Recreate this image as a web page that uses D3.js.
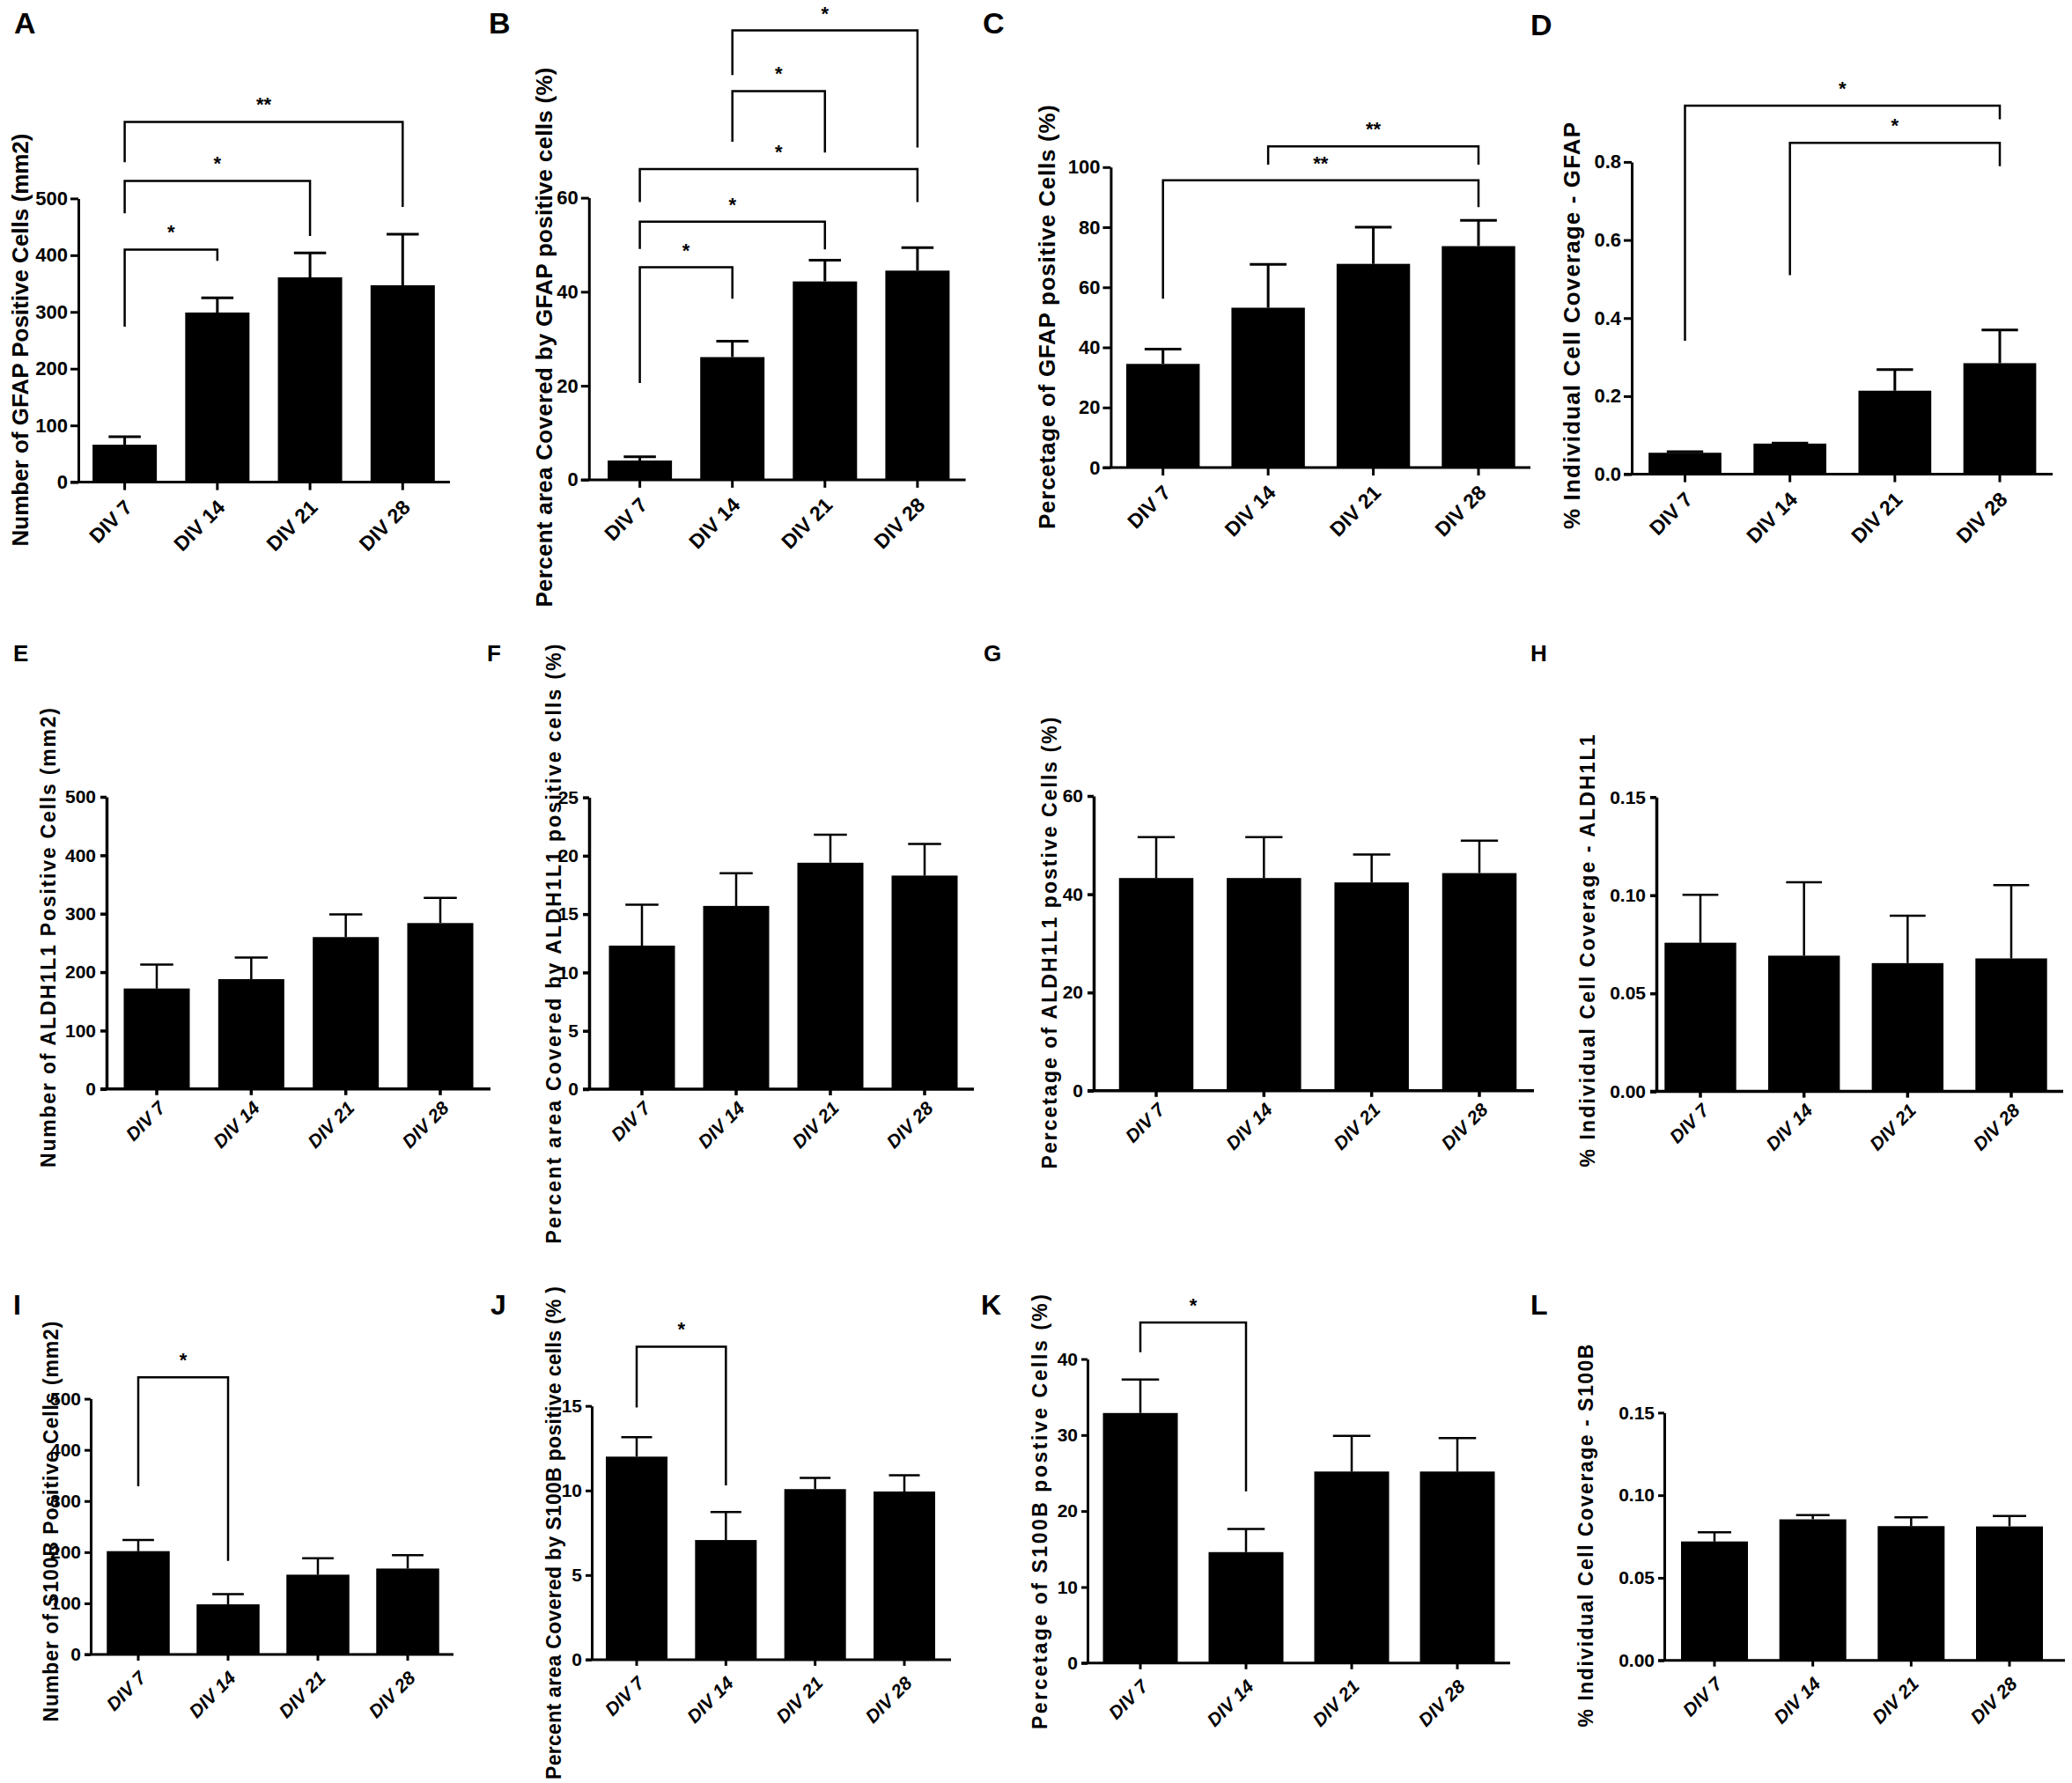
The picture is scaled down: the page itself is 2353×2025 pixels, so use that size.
<!DOCTYPE html>
<html>
<head>
<meta charset="utf-8">
<script src="https://cdn.jsdelivr.net/npm/d3@7"></script>
<style>
body { margin: 0; background: #fff; }
</style>
</head>
<body>
<script>
const categories = ["DIV 7", "DIV 14", "DIV 21", "DIV 28"];

// GFAP row (A-D): means and upper SEM
const gfapCount = [66, 299, 361, 347];
const gfapCountErr = [14, 26, 43, 90];
const gfapArea = [4.1, 26.1, 42.2, 44.5];
const gfapAreaErr = [0.8, 3.4, 4.5, 4.9];
const gfapPercent = [34.5, 53.2, 67.8, 73.7];
const gfapPercentErr = [4.9, 14.4, 12.2, 8.6];
const gfapCoverage = [0.055, 0.0785, 0.214, 0.2845];
const gfapCoverageErr = [0.003, 0.0015, 0.054, 0.085];

// ALDH1L1 row (E-H)
const aldhCount = [172, 188, 260, 284];
const aldhCountErr = [41, 37, 39, 43];
const aldhArea = [12.3, 15.7, 19.4, 18.3];
const aldhAreaErr = [3.5, 2.8, 2.4, 2.7];
const aldhPercent = [43.3, 43.3, 42.4, 44.3];
const aldhPercentErr = [8.3, 8.3, 5.7, 6.6];
const aldhCoverage = [0.0758, 0.0692, 0.0654, 0.0678];
const aldhCoverageErr = [0.0244, 0.0374, 0.0242, 0.0373];

// S100B row (I-L)
const s100bCount = [202, 98, 156, 168];
const s100bCountErr = [22, 20, 32, 26];
const s100bArea = [12.0, 7.07, 10.08, 9.94];
const s100bAreaErr = [1.15, 1.66, 0.66, 0.96];
const s100bPercent = [32.9, 14.6, 25.2, 25.2];
const s100bPercentErr = [4.4, 3.05, 4.7, 4.4];
const s100bCoverage = [0.072, 0.0854, 0.0813, 0.0811];
const s100bCoverageErr = [0.0056, 0.0025, 0.0053, 0.0063];

// significance brackets: [from, to, bracket level, left leg end, right leg end, label]
const gfapCountSig = [[0, 1, 410, 274, 390, "*"], [0, 2, 531, 474, 434, "*"], [0, 3, 635, 564, 485, "**"]];
const gfapAreaSig = [[0, 1, 45.2, 20.6, 38.5, "*"], [0, 2, 54.9, 49.1, 49.0, "*"], [0, 3, 66.1, 59.1, 59.1, "*"],
                     [1, 2, 82.7, 71.9, 69.6, "*"], [1, 3, 95.6, 86.1, 70.7, "*"]];
const gfapPercentSig = [[0, 3, 95.6, 56.2, 86.7, "**"], [1, 3, 106.9, 100.8, 100.8, "**"]];
const gfapCoverageSig = [[0, 3, 0.944, 0.342, 0.909, "*"], [1, 3, 0.849, 0.510, 0.789, "*"]];
const s100bCountSig = [[0, 1, 542, 329, 183, "*"]];
const s100bAreaSig = [[0, 1, 18.5, 14.9, 10.3, "*"]];
const s100bPercentSig = [[0, 1, 44.8, 40.9, 22.6, "*"]];

// tick values
const ticks500 = [0, 100, 200, 300, 400, 500];
const ticks60 = [0, 20, 40, 60];
const ticks100 = [0, 20, 40, 60, 80, 100];
const ticks08 = [0, 0.2, 0.4, 0.6, 0.8];
const ticks25 = [0, 5, 10, 15, 20, 25];
const ticks015 = [0, 0.05, 0.10, 0.15];
const ticks15 = [0, 5, 10, 15];
const ticks40 = [0, 10, 20, 30, 40];

const width = 2353;
const height = 2025;

const arial = "'Liberation Sans', Arial, Helvetica, sans-serif";

const rowStyle = {
    1: {tickSize: 22, divSize: 23, divStyle: "normal", axisW: 3, tickLen: 9, tickPad: 3,
        divDx: 10, divDy: 30, labelSize: 26, letterSize: 34, starSize: 22, lineW: 2.5, errW: 3},
    2: {tickSize: 21, divSize: 21, divStyle: "italic", axisW: 3.5, tickLen: 7, tickPad: 5,
        divDx: 11, divDy: 23, labelSize: 23, letterSize: 26, starSize: 22, lineW: 2.5, errW: 2.5},
    3: {tickSize: 21, divSize: 21, divStyle: "italic", axisW: 3, tickLen: 7, tickPad: 4,
        divDx: 10, divDy: 28, labelSize: 23, letterSize: 32, starSize: 22, lineW: 2.5, errW: 2.5}
};

const panels = [
    {letter: "A", lx: 16, ly: 38, row: 1, values: gfapCount, errors: gfapCountErr, sig: gfapCountSig, ticks: ticks500, fmt: "d",
     ylabel: "Number of GFAP Positive Cells (mm2)", x0: 89, x1: 511, c0: 141.6, c3: 457.3, barW: 73, yTop: 225.4, y0: 547.6,
     labelX: 32, labelY: 386, labelLen: 469},
    {letter: "B", lx: 555, ly: 38, row: 1, values: gfapArea, errors: gfapAreaErr, sig: gfapAreaSig, ticks: ticks60, fmt: "d",
     ylabel: "Percent area Covered by GFAP positive cells (%)", x0: 668.8, x1: 1096.6, c0: 726.6, c3: 1041.9, barW: 73, yTop: 224.6, y0: 544.9,
     labelX: 627, labelY: 383, labelLen: 613},
    {letter: "C", lx: 1116, ly: 38, row: 1, values: gfapPercent, errors: gfapPercentErr, sig: gfapPercentSig, ticks: ticks100, fmt: "d",
     ylabel: "Percetage of GFAP positive Cells (%)", x0: 1261.4, x1: 1738, c0: 1320.7, c3: 1679, barW: 83.4, yTop: 189.8, y0: 531,
     labelX: 1198, labelY: 360, labelLen: 482},
    {letter: "D", lx: 1738, ly: 40, row: 1, values: gfapCoverage, errors: gfapCoverageErr, sig: gfapCoverageSig, ticks: ticks08, fmt: ".1f",
     ylabel: "% Individual Cell Coverage - GFAP", x0: 1853, x1: 2331, c0: 1913.5, c3: 2271, barW: 82.7, yTop: 183.9, y0: 538.6,
     labelX: 1794, labelY: 370, labelLen: 462},

    {letter: "E", lx: 15, ly: 751, row: 2, values: aldhCount, errors: aldhCountErr, sig: [], ticks: ticks500, fmt: "d",
     ylabel: "Number of ALDH1L1 Positive Cells (mm2)", x0: 121, x1: 557, c0: 178, c3: 500, barW: 75, yTop: 905, y0: 1236.8,
     labelX: 63, labelY: 1065, labelLen: 522},
    {letter: "F", lx: 553, ly: 751, row: 2, values: aldhArea, errors: aldhAreaErr, sig: [], ticks: ticks25, fmt: "d",
     ylabel: "Percent area Covered by ALDH1L1 positive cells (%)", x0: 669, x1: 1106, c0: 729, c3: 1050, barW: 75, yTop: 905.6, y0: 1237,
     labelX: 637, labelY: 1072, labelLen: 681},
    {letter: "G", lx: 1117, ly: 751, row: 2, values: aldhPercent, errors: aldhPercentErr, sig: [], ticks: ticks60, fmt: "d",
     ylabel: "Percetage of ALDH1L1 postive Cells (%)", x0: 1242, x1: 1742, c0: 1313, c3: 1680, barW: 84.5, yTop: 904, y0: 1238.8,
     labelX: 1200, labelY: 1071, labelLen: 513},
    {letter: "H", lx: 1738, ly: 751, row: 2, values: aldhCoverage, errors: aldhCoverageErr, sig: [], ticks: ticks015, fmt: ".2f",
     ylabel: "% Individual Cell Coverage - ALDH1L1", x0: 1881, x1: 2343, c0: 1931, c3: 2284, barW: 81.4, yTop: 905.3, y0: 1239.6,
     labelX: 1811, labelY: 1080, labelLen: 491},

    {letter: "I", lx: 15, ly: 1493, row: 3, values: s100bCount, errors: s100bCountErr, sig: s100bCountSig, ticks: ticks500, fmt: "d",
     ylabel: "Number of S100B Positive Cells (mm2)", x0: 103, x1: 515, c0: 157, c3: 463, barW: 71.5, yTop: 1588.6, y0: 1879,
     labelX: 66, labelY: 1728, labelLen: 455},
    {letter: "J", lx: 557, ly: 1493, row: 3, values: s100bArea, errors: s100bAreaErr, sig: s100bAreaSig, ticks: ticks15, fmt: "d",
     ylabel: "Percent area Covered by S100B positive cells (% )", x0: 672, x1: 1080, c0: 723, c3: 1027, barW: 70, yTop: 1596.7, y0: 1884.9,
     labelX: 637, labelY: 1741, labelLen: 560},
    {letter: "K", lx: 1114, ly: 1493, row: 3, values: s100bPercent, errors: s100bPercentErr, sig: s100bPercentSig, ticks: ticks40, fmt: "d",
     ylabel: "Percetage of S100B postive Cells (%)", x0: 1235, x1: 1715, c0: 1295, c3: 1655, barW: 85, yTop: 1543.5, y0: 1888.8,
     labelX: 1189, labelY: 1717, labelLen: 494},
    {letter: "L", lx: 1738, ly: 1493, row: 3, values: s100bCoverage, errors: s100bCoverageErr, sig: [], ticks: ticks015, fmt: ".2f",
     ylabel: "% Individual Cell Coverage - S100B", x0: 1890, x1: 2345, c0: 1947, c3: 2282, barW: 76, yTop: 1604.4, y0: 1885.7,
     labelX: 1809, labelY: 1744, labelLen: 435}
];

const svg = d3.select("body").append("svg")
    .attr("width", width)
    .attr("height", height)
    .style("display", "block");

svg.append("rect").attr("width", width).attr("height", height).attr("fill", "#fff");

function drawPanel(p) {
    const st = rowStyle[p.row];
    const step = (p.c3 - p.c0) / 3;
    const pad = 1 - p.barW / step;

    // band centers sit on the tick positions
    const x = d3.scaleBand()
        .domain(categories)
        .range([p.c0 - step / 2, p.c3 + step / 2])
        .paddingInner(pad)
        .paddingOuter(pad / 2);
    const y = d3.scaleLinear()
        .domain([0, d3.max(p.ticks)])
        .range([p.y0, p.yTop]);
    const cx = i => x(categories[i]) + x.bandwidth() / 2;

    const g = svg.append("g").attr("class", "panel-" + p.letter);

    // bars
    g.selectAll("rect.bar")
        .data(p.values)
        .join("rect")
        .attr("class", "bar")
        .attr("x", (d, i) => x(categories[i]))
        .attr("y", d => y(d))
        .attr("width", x.bandwidth())
        .attr("height", d => y(0) - y(d))
        .attr("fill", "#000");

    // upper error bars only
    const capW = x.bandwidth() * 0.5;
    g.selectAll("path.err")
        .data(p.values)
        .join("path")
        .attr("class", "err")
        .attr("d", (d, i) => {
            const top = y(d + p.errors[i]);
            return `M${cx(i)},${y(d)}V${top}M${cx(i) - capW / 2},${top}H${cx(i) + capW / 2}`;
        })
        .attr("fill", "none")
        .attr("stroke", "#000")
        .attr("stroke-width", st.errW);

    // y axis
    const yAxis = g.append("g")
        .attr("transform", `translate(${p.x0},0)`)
        .call(d3.axisLeft(y).tickValues(p.ticks).tickFormat(d3.format(p.fmt))
            .tickSize(st.tickLen).tickSizeOuter(0).tickPadding(st.tickPad));
    yAxis.selectAll("path, line").attr("stroke", "#000").attr("stroke-width", st.axisW);
    yAxis.selectAll("text")
        .attr("font-family", arial)
        .attr("font-size", st.tickSize)
        .attr("font-weight", "bold")
        .attr("fill", "#000");

    // x axis
    const xAxis = g.append("g")
        .attr("transform", `translate(0,${p.y0})`)
        .call(d3.axisBottom(x).tickSize(st.tickLen).tickSizeOuter(0).tickFormat(""));
    xAxis.select(".domain").attr("d", `M${p.x0 - st.tickLen},0H${p.x1}`);
    xAxis.selectAll("path, line").attr("stroke", "#000").attr("stroke-width", st.axisW);

    // rotated category labels
    g.selectAll("text.cat")
        .data(categories)
        .join("text")
        .attr("class", "cat")
        .attr("transform", (d, i) => `translate(${cx(i) + st.divDx},${p.y0 + st.divDy}) rotate(-45)`)
        .attr("text-anchor", "end")
        .attr("font-family", arial)
        .attr("font-size", st.divSize)
        .attr("font-weight", "bold")
        .attr("font-style", st.divStyle)
        .text(d => d);

    // y label
    g.append("text")
        .attr("transform", `translate(${p.labelX},${p.labelY}) rotate(-90)`)
        .attr("text-anchor", "middle")
        .attr("font-family", arial)
        .attr("font-size", st.labelSize)
        .attr("font-weight", "bold")
        .attr("textLength", p.labelLen)
        .attr("lengthAdjust", "spacing")
        .text(p.ylabel);

    // significance brackets
    p.sig.forEach(s => {
        const [a, b, level, leftEnd, rightEnd, label] = s;
        g.append("path")
            .attr("d", `M${cx(a)},${y(leftEnd)}V${y(level)}H${cx(b)}V${y(rightEnd)}`)
            .attr("fill", "none")
            .attr("stroke", "#000")
            .attr("stroke-width", st.lineW);
        g.append("text")
            .attr("x", (cx(a) + cx(b)) / 2)
            .attr("y", y(level) - 12)
            .attr("text-anchor", "middle")
            .attr("font-family", arial)
            .attr("font-size", st.starSize)
            .attr("font-weight", "bold")
            .text(label);
    });

    // panel letter
    svg.append("text")
        .attr("x", p.lx)
        .attr("y", p.ly)
        .attr("font-family", arial)
        .attr("font-size", st.letterSize)
        .attr("font-weight", "bold")
        .text(p.letter);
}

panels.forEach(drawPanel);
</script>
</body>
</html>
